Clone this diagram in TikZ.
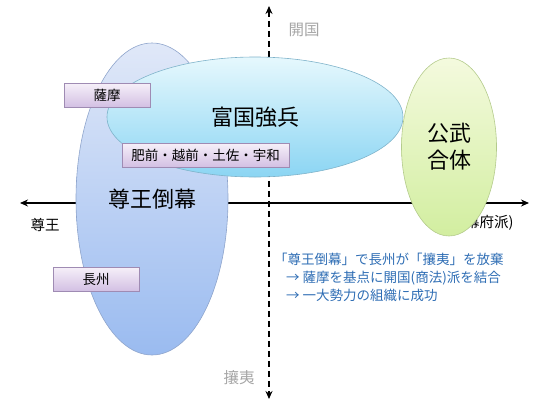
\documentclass[tikz,border=0pt]{standalone}
\usepackage{fontspec}
\setmainfont{Noto Sans CJK JP}
\usepackage{xcolor}
\usetikzlibrary{shapes.geometric, arrows.meta, positioning}

\definecolor{axisgray}{HTML}{A6A6A6}
\definecolor{noteblue}{HTML}{2E6DB4}
\definecolor{blueTop}{HTML}{E0E8F8}
\definecolor{blueBot}{HTML}{9ABBF0}
\definecolor{blueEdge}{HTML}{8FA5CC}
\definecolor{cyanTop}{HTML}{E6F8FD}
\definecolor{cyanBot}{HTML}{8BD5F3}
\definecolor{cyanEdge}{HTML}{7FB3CA}
\definecolor{greenTop}{HTML}{F4FADE}
\definecolor{greenBot}{HTML}{D2EEA0}
\definecolor{greenEdge}{HTML}{B4CB8C}
\definecolor{hanTop}{HTML}{F6F0F9}
\definecolor{hanBot}{HTML}{D3C0E3}
\definecolor{hanEdge}{HTML}{9F8BB3}

\begin{document}
\begin{tikzpicture}[
        x=1pt, y=-1pt,
        oval/.style={ellipse, draw=#1Edge, top color=#1Top, bottom color=#1Bot,
                     line width=0.6pt, inner sep=0pt,
                     font=\fontsize{22}{27}\selectfont, align=center},
        han/.style={rectangle, draw=hanEdge, line width=0.6pt,
                    top color=hanTop, bottom color=hanBot,
                    minimum height=24pt, inner sep=0pt,
                    font=\fontsize{13.5}{15}\selectfont},
        axis/.style={line width=1.6pt, {Stealth[length=8pt, width=7pt]}-{Stealth[length=8pt, width=7pt]}},
        pole/.style={font=\fontsize{15.5}{17}\selectfont, text=axisgray},
        side/.style={font=\fontsize{14.5}{16}\selectfont}
    ]
        \useasboundingbox (0,0) rectangle (540,405);

        % Axes
        \coordinate (west) at (20,203);
        \coordinate (east) at (529,203);
        \coordinate (north) at (269,6);
        \coordinate (south) at (269,399);
        \draw[axis] (west) -- (east);
        \draw[axis, dash pattern=on 6pt off 4pt] (north) -- (south);

        % Axis labels
        \node[pole] (kaikoku) at (304,30) {開国};
        \node[pole] (joi) at (239,378) {攘夷};
        \node[side] (sonno) at (45,225) {尊王};
        \node[side, anchor=east] (sabaku) at (517,223) {佐幕(幕府派)};

        % Ovals
        \node[oval=blue, minimum width=152pt, minimum height=312pt] (tobaku) at (152,199) {尊王倒幕};
        \node[oval=cyan, minimum width=296pt, minimum height=120pt] (fukoku) at (255,117) {富国強兵};
        \node[oval=green, minimum width=95pt, minimum height=178pt] (kobu) at (449,147) {公武\\合体};

        % Domains
        \node[han, minimum width=86pt] (satsuma) at (107,95) {薩摩};
        \node[han, minimum width=86pt] (choshu) at (96,279) {長州};
        \node[han, minimum width=167pt] (others) at (205.5,155) {肥前・越前・土佐・宇和};

        % Note
        \node[anchor=north west, align=left, text=noteblue, inner sep=0pt,
              font=\fontsize{13.5}{18}\selectfont] (note) at (274,253)
            {「尊王倒幕」で長州が「攘夷」を放棄\\
             \hspace*{12pt}→ 薩摩を基点に開国(商法)派を結合\\
             \hspace*{12pt}→ 一大勢力の組織に成功};
    \end{tikzpicture}
\end{document}
